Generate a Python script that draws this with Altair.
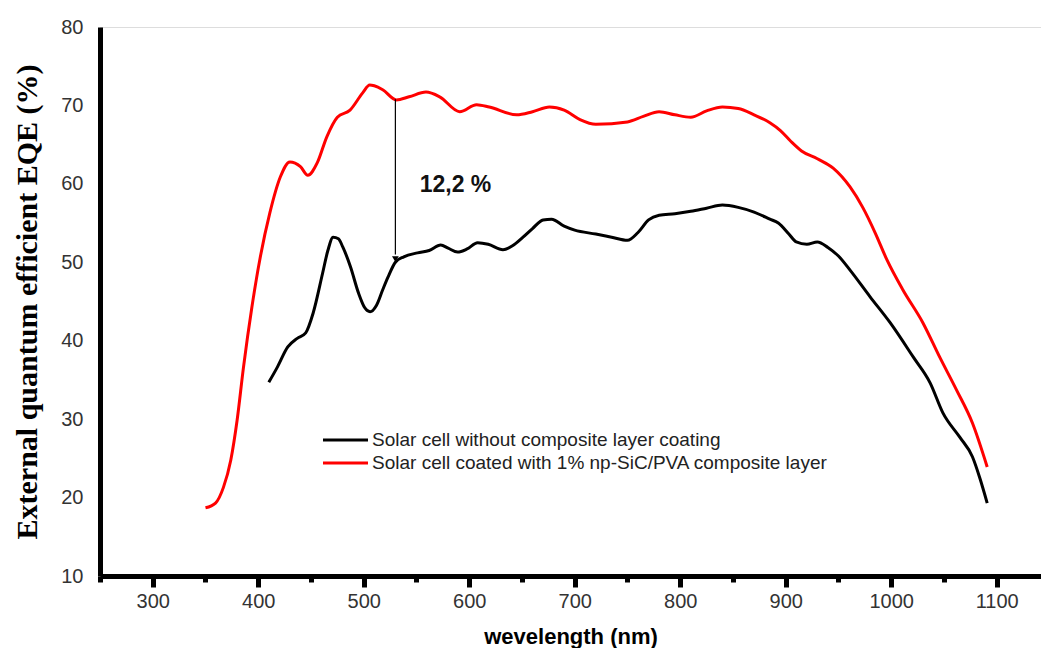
import altair as alt
import pandas as pd

# ---- data ----
black_x = [410, 418, 428, 437, 445, 452, 461, 466, 471, 476, 480, 487.5, 495, 501, 506, 512, 518, 523, 530,
           538, 551, 562, 573, 580, 589, 598, 608, 618, 632, 641, 651, 660, 670, 678, 690, 700, 720, 735,
           750, 760, 770, 780, 795, 810, 825, 840, 855, 870, 885, 893, 903, 910, 920, 930, 940, 950, 961,
           980, 999, 1021, 1037, 1049, 1065, 1077, 1084, 1091]
black_y = [34.7, 36.6, 39.2, 40.3, 41.0, 43.5, 48.6, 51.5, 53.2, 53.0, 52.0, 49.4, 46.1, 44.2, 43.7, 44.5, 46.5,
           48.1, 50.0, 50.7, 51.2, 51.5, 52.2, 51.8, 51.3, 51.7, 52.5, 52.3, 51.6, 52.1, 53.2, 54.3, 55.4, 55.5,
           54.6, 54.1, 53.6, 53.2, 52.8, 53.8, 55.4, 56.0, 56.2, 56.5, 56.9, 57.3, 57.0, 56.4, 55.5, 55.0, 53.6,
           52.6, 52.3, 52.6, 51.9, 50.8, 49.0, 45.6, 42.3, 37.9, 34.6, 30.8, 27.7, 25.2, 22.5, 19.3]

red_x = [350, 359.5, 367, 374, 380, 386, 394, 402, 411, 421, 430, 440, 447, 456, 465, 475, 487, 499, 505.7,
         510, 518, 531, 543, 559, 572, 591, 607, 619, 645, 660, 676, 690, 705, 720, 750, 765, 780, 795, 810,
         825, 840, 855, 870, 885, 895, 905, 915, 930, 945, 961, 973, 985, 996, 1011, 1030, 1046, 1062, 1077,
         1091]
red_y = [18.7, 19.3, 21.3, 24.8, 29.9, 36.6, 44.3, 50.7, 56.3, 60.9, 62.8, 62.2, 61.1, 62.7, 66.0, 68.5, 69.4,
         71.6, 72.6, 72.5, 72.0, 70.7, 71.1, 71.7, 71.1, 69.2, 70.1, 69.8, 68.8, 69.2, 69.8, 69.4, 68.2, 67.6,
         67.9, 68.6, 69.2, 68.8, 68.5, 69.3, 69.8, 69.6, 68.8, 67.8, 66.8, 65.4, 64.2, 63.2, 62.0, 59.6, 57.0,
         53.7, 50.3, 46.5, 42.3, 37.9, 33.7, 29.5, 23.9]

series_names = ["Solar cell without composite layer coating",
                "Solar cell coated with 1% np-SiC/PVA composite layer"]
series_colors = ["#000000", "#ff0000"]

x_ticks = list(range(250, 1151, 50))
y_ticks = list(range(10, 81, 10))

annot_text = ["12,2 %"]
annot_x = [587]
annot_y = [59.9]
arrow_x = [530]
arrow_top = [70.8]
arrow_bottom = [51.0]
arrow_tip = [50.4]

# ---- tables ----
df = pd.concat([
    pd.DataFrame({"wl": black_x, "eqe": black_y, "series": series_names[0]}),
    pd.DataFrame({"wl": red_x, "eqe": red_y, "series": series_names[1]}),
])
ann = pd.DataFrame({"x": annot_x, "y": annot_y, "t": annot_text})
arr = pd.DataFrame({"x": arrow_x, "y1": arrow_top, "y2": arrow_bottom, "tip": arrow_tip})
leg = pd.DataFrame({"series": series_names})

xscale = alt.Scale(domain=[250, 1142], nice=False, zero=False)
yscale = alt.Scale(domain=[10, 80], nice=False, zero=False)

xaxis = alt.Axis(
    title="wevelength (nm)", values=x_ticks, format="d",
    labelExpr="datum.value % 100 === 0 ? datum.label : ''",
    tickSize={"condition": {"test": "datum.value % 100 === 0", "value": 11}, "value": 6},
    tickWidth=5, tickColor="black", domainWidth=5, domainColor="black",
    labelFont="Liberation Sans", labelFontSize=20, labelColor="#333333", labelPadding=4,
    titleFont="Liberation Sans", titleFontSize=22, titleFontWeight="bold", titleColor="black",
    titlePadding=15, grid=False, labelFlush=False,
)
yaxis = alt.Axis(
    title="External quantum efficient EQE (%)", values=y_ticks, format="d",
    tickSize=0, domainWidth=5, domainColor="black",
    labelFont="Liberation Sans", labelFontSize=20, labelColor="#333333", labelPadding=17,
    titleFont="Liberation Serif", titleFontSize=30, titleFontWeight="bold", titleColor="black",
    titlePadding=18, grid=False,
)

color = alt.Color("series:N", scale=alt.Scale(domain=series_names, range=series_colors), legend=None)

lines = alt.Chart(df).mark_line(strokeWidth=3, interpolate="monotone").encode(
    x=alt.X("wl:Q", scale=xscale, axis=xaxis),
    y=alt.Y("eqe:Q", scale=yscale, axis=yaxis),
    color=color,
    detail="series:N",
)

arrow_line = alt.Chart(arr).mark_rule(color="black", strokeWidth=1.2).encode(
    x="x:Q", y="y1:Q", y2="y2:Q")
arrow_head = alt.Chart(arr).mark_point(shape="triangle-down", filled=True, color="black",
                                       size=45, opacity=1).encode(x="x:Q", y="tip:Q")

label = alt.Chart(ann).mark_text(font="Liberation Sans", fontSize=23, fontWeight="bold",
                                 color="#111111").encode(x="x:Q", y="y:Q", text="t:N")

# legend drawn as a small key
leg_rules = []
leg_texts = []
for i, name in enumerate(series_names):
    sub = leg[leg["series"] == name]
    ypix = 413 + i * 23
    leg_rules.append(alt.Chart(sub).mark_rule(strokeWidth=3, color=series_colors[i]).encode(
        x=alt.value(223), x2=alt.value(268), y=alt.value(ypix)))
    leg_texts.append(alt.Chart(sub).mark_text(align="left", baseline="middle", font="Liberation Sans",
                                              fontSize=19, color="#222222").encode(
        x=alt.value(272), y=alt.value(ypix), text="series:N"))

chart = alt.layer(lines, arrow_line, arrow_head, label, *leg_rules, *leg_texts).properties(
    width=941, height=549,
    padding={"left": 100, "top": 27, "right": 0, "bottom": 72},
    autosize=alt.AutoSizeParams(type="none"),
).configure_view(stroke="black", strokeWidth=4).configure(background="white")

chart.save("out.html", embed_options={"renderer": "svg", "actions": False})
